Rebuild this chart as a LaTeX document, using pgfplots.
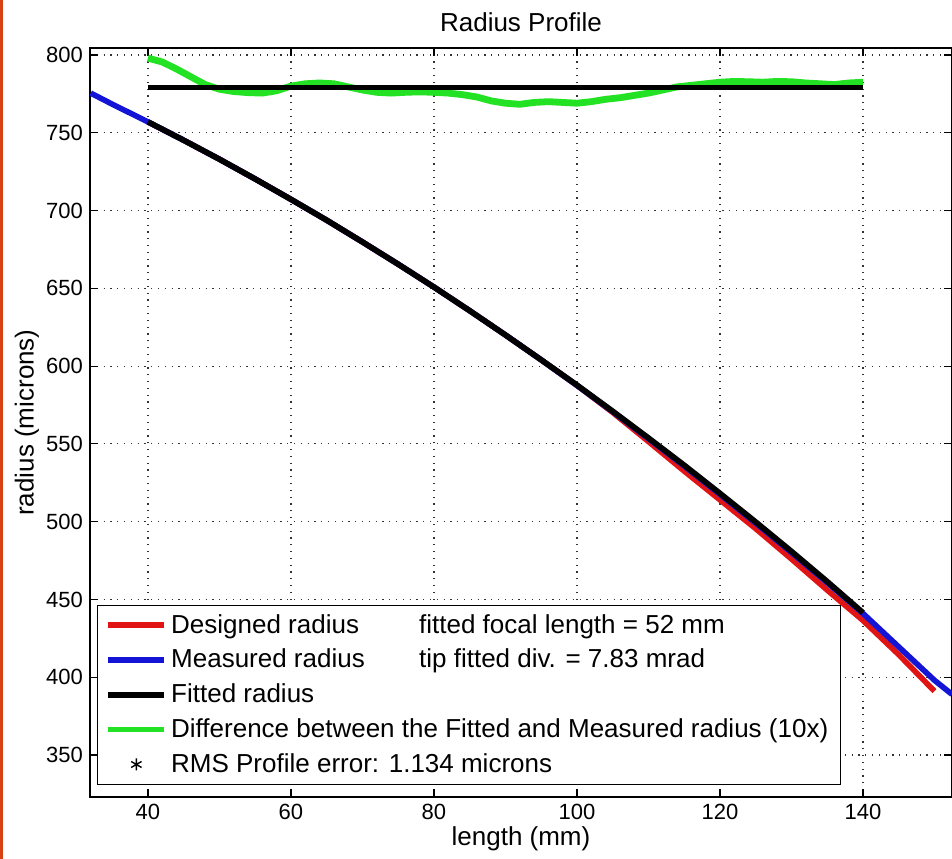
\documentclass[border=0pt]{standalone}
\usepackage{fontspec}
\setmainfont{Liberation Sans}
\usepackage{pgfplots}
\pgfplotsset{compat=1.18}
\usetikzlibrary{calc}

\definecolor{mred}{RGB}{225,20,20}
\definecolor{mblue}{RGB}{20,20,215}
\definecolor{mgreen}{RGB}{35,225,35}
\definecolor{strip}{RGB}{215,65,20}

\begin{document}
\begin{tikzpicture}
\begin{axis}[
  scale only axis,
  width=431pt, height=374.5pt,
  xmin=31.9, xmax=152.45,
  ymin=323, ymax=804.5,
  xtick={40,60,...,140},
  ytick={350,400,...,800},
  grid=major,
  grid style={dash pattern=on 0.6pt off 2.8pt, black!80, line width=0.6pt},
  axis line style={line width=0.6pt},
  tick style={black, line width=0.6pt},
  major tick length=4pt,
  /pgf/number format/assume math mode=true,
  tick label style={font=\fontsize{11}{13}\selectfont},
  every axis title shift=0pt,
  title={Radius Profile},
  title style={at={(axis description cs:0.5,1.0347)}, anchor=center, font=\fontsize{13}{15}\selectfont},
  xlabel={length (mm)},
  xlabel style={at={(axis description cs:0.5,-0.0555)}, anchor=center, font=\fontsize{13}{15}\selectfont},
  ylabel={radius (microns)},
  ylabel style={at={(axis description cs:-0.0731,0.5)}, anchor=center, font=\fontsize{13}{15}\selectfont},
  legend cell align=left,
  legend image code/.code={\draw[mark repeat=2,mark phase=2,#1] plot coordinates {(0pt,0pt) (14pt,0pt) (28pt,0pt)};},
  legend style={at={(rel axis cs:0.0081,0.016)}, anchor=south west, draw=black, line width=0.6pt,
    font=\fontsize{13}{15}\selectfont, row sep=2.5pt, inner xsep=4pt, inner ysep=2.5pt},
]
% designed radius
\addplot[mred, line width=2.8pt] coordinates {
  (40,757) (45,745.2) (50,733.0) (55,720.3) (60,707.2) (65,693.8) (70,679.8)
  (75,665.5) (80,650.8) (85,635.6) (90,620) (95,604.0) (100,587.6) (105,570.2)
  (110,551.5) (115,532.5) (120,514) (125,495.5) (130,476) (135,456) (140,436.5)
  (145,414.5) (150,391)
};
\addlegendentry{\makebox[124pt][l]{Designed radius}fitted focal length = 52 mm}
% measured radius
\addplot[mblue, line width=2.8pt] coordinates {
  (32,775.5) (35,768.4) (40,757) (45,745.2) (50,733.0) (55,720.3) (60,707.2)
  (65,693.8) (70,679.8) (75,665.5) (80,650.8) (85,635.6) (90,620) (95,604.0)
  (100,587.6) (105,570.7) (110,553.4) (115,535.8) (120,517.6) (125,499.1)
  (130,480.2) (135,460.8) (140,441) (145,419.5) (150,398) (152.45,389)
};
\addlegendentry{\makebox[124pt][l]{Measured radius}tip fitted div. = 7.83 mrad}
% fitted radius
\addplot[black, line width=2.8pt] coordinates {
  (40,757) (45,745.2) (50,733.0) (55,720.3) (60,707.2) (65,693.8) (70,679.8)
  (75,665.5) (80,650.8) (85,635.6) (90,620) (95,604.0) (100,587.8) (105,571.0)
  (110,553.8) (115,536.3) (120,518.2) (125,499.8) (130,480.9) (135,461.5)
  (140,441.5)
};
\addlegendentry{Fitted radius}
% difference (10x), drawn around the mean level
\addplot[mgreen, line width=3.4pt, forget plot] coordinates {
  (40,798) (42,795.5) (44,791) (46,786) (48,781) (50,778) (52,776.5) (54,775.8)
  (56,775.5) (58,777) (60,780) (62,781.5) (64,782) (66,781.5) (68,779.5)
  (70,777.5) (72,776) (74,775.5) (76,776) (78,776.3) (80,776) (82,775.5)
  (84,774.5) (86,773) (88,770.5) (90,769) (92,768.3) (94,769.5) (96,770)
  (98,769.5) (100,769) (102,770) (104,771.5) (106,772.5) (108,774) (110,775.5)
  (112,777.5) (114,779.5) (116,780.5) (118,781.5) (120,782.5) (122,783)
  (124,782.8) (126,782.5) (128,783) (130,782.8) (132,782) (134,781.5)
  (136,781) (138,782) (140,782.5)
};
\addplot[black, line width=2.6pt, forget plot] coordinates {(40,779) (140,779)};
\addlegendimage{mgreen, line width=2.6pt}
\addlegendentry{Difference between the Fitted and Measured radius (10x)}
\addlegendimage{only marks, mark=asterisk, mark size=3pt, black, line width=0.7pt}
\addlegendentry{RMS Profile error: 1.134 microns}
\end{axis}
\pgfresetboundingbox
\path ($(current axis.south west)+(-45pt,-31pt)$) rectangle ($(current axis.north east)+(0pt,24pt)$);
\fill[strip] ($(current axis.south west)+(-45pt,-31pt)$) rectangle ($(current axis.north west)+(-43.5pt,24pt)$);
\end{tikzpicture}
\end{document}
